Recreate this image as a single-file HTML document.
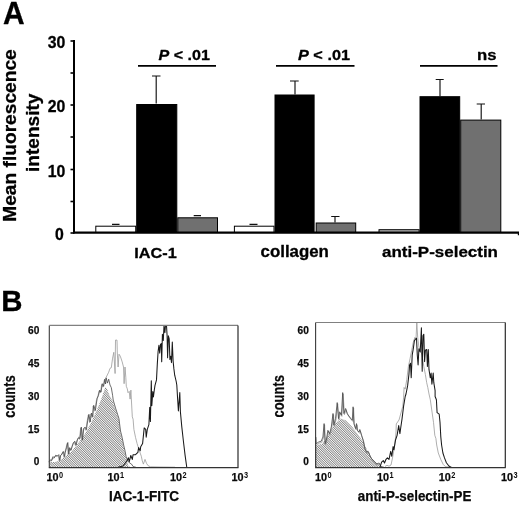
<!DOCTYPE html>
<html lang="en">
<head>
<meta charset="utf-8">
<title>Figure</title>
<style>
html,body{margin:0;padding:0;background:#fff;}
body{width:520px;height:507px;overflow:hidden;}
svg{display:block;filter:blur(0.4px);}
</style>
</head>
<body>
<svg width="520" height="507" viewBox="0 0 520 507">
<defs>
<pattern id="hp" width="1.65" height="1.65" patternUnits="userSpaceOnUse" patternTransform="rotate(45)"><rect width="1.65" height="1.65" fill="#fff"/><rect x="0" y="0" width="1.65" height="0.5" fill="#2c2c2c"/></pattern>
<clipPath id="cl"><rect x="48.5" y="325" width="189.5" height="143"/></clipPath>
<clipPath id="cr"><rect x="315.2" y="322" width="190.3" height="146"/></clipPath>
</defs>
<rect width="520" height="507" fill="#fff"/>
<g font-family="'Liberation Sans', Arial, Helvetica, sans-serif" font-weight="bold" fill="#000" stroke="#000" stroke-width="0.3" stroke-linejoin="round">
<text x="3.1" y="23.9" font-size="31.2" textLength="21.6" lengthAdjust="spacingAndGlyphs">A</text>
<text x="1.3" y="311.4" font-size="29.4">B</text>
<text transform="translate(15.8,135.5) rotate(-90)" text-anchor="middle" font-size="18.5" textLength="172.5" lengthAdjust="spacingAndGlyphs">Mean fluorescence</text>
<text transform="translate(38.6,132.8) rotate(-90)" text-anchor="middle" font-size="18.5" textLength="78.5" lengthAdjust="spacingAndGlyphs">intensity</text>
<text x="65.4" y="48.2" text-anchor="end" font-size="15.8">30</text>
<text x="65.4" y="112.2" text-anchor="end" font-size="15.8">20</text>
<text x="65.4" y="176.7" text-anchor="end" font-size="15.8">10</text>
<text x="63.7" y="240.2" text-anchor="end" font-size="15.8">0</text>
<text x="155.5" y="257.5" text-anchor="middle" font-size="15.5" textLength="42.5" lengthAdjust="spacingAndGlyphs">IAC-1</text>
<text x="294.75" y="257.2" text-anchor="middle" font-size="15.6" textLength="68.3" lengthAdjust="spacingAndGlyphs">collagen</text>
<text x="440" y="257.2" text-anchor="middle" font-size="15.5" textLength="116" lengthAdjust="spacingAndGlyphs">anti-P-selectin</text>
<text x="158.5" y="59.5" font-size="15.5" textLength="51.5" lengthAdjust="spacingAndGlyphs"><tspan font-style="italic">P</tspan> &lt; .01</text>
<text x="298" y="59.5" font-size="15.5" textLength="52" lengthAdjust="spacingAndGlyphs"><tspan font-style="italic">P</tspan> &lt; .01</text>
<text x="477" y="60" font-size="15.5" textLength="19.5" lengthAdjust="spacingAndGlyphs">ns</text>
</g>
<g stroke="#000" fill="none">
<path d="M74,40 V233.5" stroke-width="2"/>
<path d="M73,232.7 H519" stroke-width="2.2"/>
<path d="M518.4,232 V235.3" stroke-width="1.2"/>
<path d="M70.5,41 H74" stroke-width="1.6"/>
<path d="M70.5,73 H74" stroke-width="1.6"/>
<path d="M70.5,105 H74" stroke-width="1.6"/>
<path d="M70.5,137 H74" stroke-width="1.6"/>
<path d="M70.5,169.5 H74" stroke-width="1.6"/>
<path d="M70.5,201.5 H74" stroke-width="1.6"/>
<path d="M70.5,233 H74" stroke-width="1.6"/>
<path d="M138,65.8 H216" stroke-width="1.7"/>
<path d="M276,65.8 H354.5" stroke-width="1.7"/>
<path d="M420,65.8 H497.5" stroke-width="1.7"/>
</g>
<rect x="95.8" y="226.2" width="39.89999999999999" height="5.800000000000011" fill="#fff" stroke="#000" stroke-width="1"/>
<rect x="136.7" y="104.5" width="40.10000000000002" height="127.5" fill="#000" stroke="#000" stroke-width="1"/>
<rect x="177.8" y="217.8" width="39.69999999999999" height="14.199999999999989" fill="#707070" stroke="#000" stroke-width="1"/>
<rect x="234.4" y="226.2" width="39.599999999999994" height="5.800000000000011" fill="#fff" stroke="#000" stroke-width="1"/>
<rect x="275.0" y="95.0" width="39.10000000000002" height="137.0" fill="#000" stroke="#000" stroke-width="1"/>
<rect x="316.2" y="223.0" width="39.5" height="9.0" fill="#707070" stroke="#000" stroke-width="1"/>
<rect x="379.0" y="229.7" width="40.10000000000002" height="2.3000000000000114" fill="#b4b4b4" stroke="#000" stroke-width="1"/>
<rect x="420.0" y="96.7" width="39.69999999999999" height="135.3" fill="#000" stroke="#000" stroke-width="1"/>
<rect x="460.7" y="120.1" width="40.10000000000002" height="111.9" fill="#707070" stroke="#000" stroke-width="1"/>
<g stroke="#111" stroke-width="1.15" fill="none">
<path d="M156.2,76 V103.5 M152,76 H160.5"/>
<path d="M295,81 V94.5 M290,81 H298.7"/>
<path d="M440,79.5 V96.2 M435.7,79.5 H443.7"/>
<path d="M481.2,104 V119.5 M476.7,104 H485"/>
<path d="M335,216.5 V222.5 M331.2,216.5 H339.5"/>
<path d="M112,224.4 H119.5 M249.5,224.4 H257.5 M193.7,215.6 H201"/>
</g>
<g clip-path="url(#cl)">
<polygon points="49.50,467.60 49.50,462.00 55.00,462.00 60.10,460.40 66.00,456.00 71.60,451.40 78.00,443.50 84.50,434.80 91.00,423.00 97.30,409.10 101.50,398.50 103.50,392.50 105.50,386.80 107.50,390.00 109.50,395.50 112.60,401.00 115.80,410.50 118.90,420.00 120.50,433.00 122.10,439.00 123.70,447.00 125.20,453.50 126.00,458.50 128.40,465.70 131.00,467.60" fill="url(#hp)" stroke="none"/>
<polyline points="48.20,462.50 49.90,460.60 51.20,461.20 52.50,457.40 53.70,458.60 55.00,456.10 56.90,456.70 58.20,455.40 59.20,461.20 60.10,456.10 61.40,454.80 62.70,452.20 64.00,457.40 64.60,453.50 65.90,448.40 67.20,443.30 68.20,454.80 69.10,448.40 70.40,451.00 71.70,447.10 73.00,443.30 74.20,442.00 75.50,445.80 76.80,440.70 78.10,438.10 79.40,439.40 80.70,427.90 81.90,440.70 83.20,429.20 84.50,427.90 85.80,430.40 87.10,421.50 88.30,415.10 89.60,422.70 90.90,413.80 92.20,417.60 93.10,406.10 94.80,411.20 96.00,402.80 96.60,399.30 97.90,396.10 99.10,390.90 100.40,392.90 101.70,384.50 103.00,387.10 104.30,380.00 105.50,378.60 108.70,372.20 110.00,368.30 111.30,367.70 112.60,358.10 113.80,352.30 115.10,373.50 115.50,340.10 117.00,340.10 117.30,353.00 118.10,367.00 119.00,354.20 120.30,356.20 122.20,361.90 123.50,367.00 124.10,383.70 125.00,367.00 125.80,377.30 126.30,386.30 127.30,388.80 128.00,392.70 129.20,391.40 130.10,399.10 130.90,390.10 131.40,400.00 132.30,416.80 133.10,419.20 133.90,429.40 135.50,437.30 137.10,443.60 138.60,448.40 140.20,453.10 141.30,456.20 142.30,461.00 143.40,464.10 145.00,459.40 146.50,463.30 148.10,465.70 150.50,466.80 160.00,467.00 175.00,467.20" fill="none" stroke="#9a9a9a" stroke-width="0.8" stroke-linejoin="round"/>
<polyline points="48.80,461.70 50.50,459.80 51.80,460.40 53.10,456.60 54.30,457.80 55.60,455.30 57.50,455.90 58.80,454.60 59.80,460.40 60.70,455.30 62.00,454.00 63.30,451.40 64.60,456.60 65.20,452.70 66.50,447.60 67.80,442.50 68.80,454.00 69.70,447.60 71.00,450.20 72.30,446.30 73.60,442.50 74.80,441.20 76.10,445.00 77.40,439.90 78.70,437.30 80.00,438.60 81.30,427.10 82.50,439.90 83.80,428.40 85.10,427.10 86.40,429.60 87.70,420.70 88.90,414.30 90.20,421.90 91.50,413.00 92.80,416.80 93.70,405.30 95.40,410.40 96.60,402.00 97.20,398.50 98.50,395.30 99.70,390.10 101.00,392.10 102.30,383.70 103.60,386.30 104.90,379.20 105.50,384.00 106.20,377.90 107.40,383.10 108.70,379.20 110.00,385.00 111.30,387.60 112.60,395.30 113.20,400.00 115.80,408.90 118.90,418.40 120.50,431.00 122.10,437.30 123.70,445.20 125.20,451.50 126.00,456.20 127.60,461.00 129.20,462.60 131.50,464.10 133.10,466.50 136.00,467.30" fill="none" stroke="#484848" stroke-width="0.8" stroke-linejoin="round"/>
<polyline points="118.00,467.30 123.00,466.00 126.80,461.00 128.40,457.80 129.20,461.80 130.80,455.50 132.30,459.40 133.10,454.70 135.50,454.70 137.90,452.30 138.60,447.60 140.20,450.70 140.70,446.80 142.60,443.60 144.20,427.90 145.70,429.40 146.20,437.30 147.30,429.40 148.90,424.70 149.70,407.40 150.40,421.50 151.30,380.70 151.80,405.80 152.80,391.60 153.40,397.00 154.40,389.30 155.00,385.40 156.50,379.90 157.30,364.10 158.10,351.50 158.90,345.20 159.70,353.10 160.50,344.40 161.30,343.60 161.70,361.80 162.40,334.20 163.30,340.50 164.00,325.50 164.90,332.60 165.50,325.50 166.50,325.50 167.10,335.80 167.60,357.80 168.40,335.80 169.20,338.90 169.90,359.40 170.70,356.20 171.50,362.60 172.30,342.10 173.10,361.00 173.90,368.90 174.70,375.20 176.20,381.50 176.80,385.00 177.60,398.40 178.40,411.00 179.80,392.50 180.40,411.80 181.80,426.90 183.50,442.00 185.10,455.40 186.80,467.50" fill="none" stroke="#1a1a1a" stroke-width="1.05" stroke-linejoin="round"/>
</g>
<path d="M49.3,467.6 V325.4" fill="none" stroke="#3a3a3a" stroke-width="1.1"/>
<path d="M49.3,325.4 H238" fill="none" stroke="#808080" stroke-width="1.1"/>
<path d="M238,325.4 V467.6" fill="none" stroke="#2a2a2a" stroke-width="1.2"/>
<path d="M48.8,467.6 H238.5" fill="none" stroke="#333" stroke-width="1.3"/>
<g clip-path="url(#cr)">
<polygon points="315.80,467.50 315.80,445.40 322.00,443.70 328.80,433.70 335.50,423.60 340.50,418.60 345.60,420.20 352.30,427.00 357.30,433.70 362.30,440.40 367.40,450.40 370.70,457.10 375.80,462.20 380.80,467.50" fill="url(#hp)" stroke="none"/>
<polyline points="316.70,444.90 319.20,443.20 321.70,442.40 323.40,438.20 324.60,424.80 325.60,444.90 326.80,441.60 328.40,431.50 330.10,434.90 331.80,428.20 333.50,414.70 334.30,426.50 336.00,419.80 337.70,403.80 339.00,419.80 340.20,413.00 341.90,416.40 343.20,393.80 344.40,414.70 346.10,409.70 347.70,414.70 349.40,417.20 351.40,419.80 352.80,421.40 353.60,408.00 354.40,424.80 356.10,429.80 357.00,424.80 357.80,431.50 359.50,433.20 360.30,430.70 362.00,436.50 363.70,441.60 365.40,450.00 367.00,453.30 368.70,452.50 370.40,456.70 372.10,460.00 374.60,462.50 377.10,465.10 379.60,464.20 381.30,467.60 384.50,468.50" fill="none" stroke="#9a9a9a" stroke-width="0.8" stroke-linejoin="round"/>
<polyline points="385.00,466.50 387.00,465.30 389.00,466.20 391.00,465.00 392.50,458.00 393.50,452.00 394.50,446.00 395.50,438.00 396.00,432.00 396.30,423.90 399.00,420.00 402.80,406.20 403.60,397.20 404.10,387.50 405.20,389.10 406.80,379.40 408.40,366.50 410.10,358.40 411.70,350.30 413.30,342.20 414.90,337.40 416.00,339.00 416.80,322.50 417.70,337.40 418.90,347.10 420.20,350.30 422.20,355.20 423.80,366.50 425.40,374.60 426.70,382.70 427.80,387.50 429.00,394.00 430.30,399.70 431.90,411.00 433.50,422.30 434.80,435.30 435.90,438.50 436.70,445.00 438.30,453.00 440.80,459.50 443.20,464.40 445.60,466.80 452.00,467.30" fill="none" stroke="#9a9a9a" stroke-width="0.8" stroke-linejoin="round"/>
<polyline points="315.70,467.00 315.70,437.00 316.20,443.70 318.70,442.00 321.20,441.20 322.90,437.00 324.10,423.60 325.10,443.70 326.30,440.40 327.90,430.30 329.60,433.70 331.30,427.00 333.00,413.50 333.80,425.30 335.50,418.60 337.20,402.60 338.50,418.60 339.70,411.80 341.40,415.20 342.70,392.60 343.90,413.50 345.60,408.50 347.20,413.50 348.90,416.00 350.90,418.60 352.30,420.20 353.10,406.80 353.90,423.60 355.60,428.60 356.50,423.60 357.30,430.30 359.00,432.00 359.80,429.50 361.50,435.30 363.20,440.40 364.90,448.80 366.50,452.10 368.20,451.30 369.90,455.50 371.60,458.80 374.10,461.30 376.60,463.90 379.10,463.00 380.80,466.40 384.00,467.30" fill="none" stroke="#484848" stroke-width="0.8" stroke-linejoin="round"/>
<polyline points="378.00,467.40 380.00,467.20 381.60,462.20 383.30,460.50 384.50,463.00 385.80,459.70 387.40,457.90 389.00,459.50 390.70,451.40 391.80,456.30 393.10,446.60 393.90,449.80 395.50,440.10 397.10,435.30 398.70,425.60 399.90,433.60 400.80,427.20 402.00,419.10 403.60,406.20 405.20,396.50 406.00,394.00 407.60,385.90 408.90,374.60 409.60,364.90 410.50,363.30 411.20,377.80 412.20,355.20 413.30,348.70 414.40,340.60 415.70,339.00 416.50,338.20 417.30,355.20 418.10,364.90 418.90,348.70 420.20,351.90 421.40,327.70 422.20,371.30 423.00,335.80 423.80,334.20 424.60,361.60 425.40,350.30 426.70,349.50 427.40,366.50 428.30,349.50 429.00,369.70 430.30,377.80 431.10,373.00 431.90,384.30 433.20,373.00 433.80,382.70 435.10,390.70 435.10,396.50 436.40,399.70 437.10,412.60 439.20,414.20 440.00,422.30 440.80,436.90 441.60,445.00 442.90,453.00 444.50,457.90 446.40,462.70 448.90,466.00 451.30,467.40" fill="none" stroke="#1a1a1a" stroke-width="1.05" stroke-linejoin="round"/>
</g>
<path d="M315.6,467.6 V322.5" fill="none" stroke="#3a3a3a" stroke-width="1.1"/>
<path d="M315.6,322.5 H505.3" fill="none" stroke="#808080" stroke-width="1.1"/>
<path d="M505.3,322.5 V467.6" fill="none" stroke="#2a2a2a" stroke-width="1.2"/>
<path d="M315.1,467.6 H505.8" fill="none" stroke="#333" stroke-width="1.3"/>
<g font-family="'Liberation Sans', Arial, Helvetica, sans-serif" font-weight="bold" fill="#0a0a0a" stroke="#0a0a0a" stroke-width="0.25" stroke-linejoin="round">
<text x="39.3" y="333.8" text-anchor="end" font-size="11.5" textLength="11.3" lengthAdjust="spacingAndGlyphs">60</text>
<text x="308.8" y="333.8" text-anchor="end" font-size="11.5" textLength="11.3" lengthAdjust="spacingAndGlyphs">60</text>
<text x="39.3" y="367.3" text-anchor="end" font-size="11.5" textLength="11.3" lengthAdjust="spacingAndGlyphs">45</text>
<text x="308.8" y="367.3" text-anchor="end" font-size="11.5" textLength="11.3" lengthAdjust="spacingAndGlyphs">45</text>
<text x="39.3" y="400.3" text-anchor="end" font-size="11.5" textLength="11.3" lengthAdjust="spacingAndGlyphs">30</text>
<text x="308.8" y="400.3" text-anchor="end" font-size="11.5" textLength="11.3" lengthAdjust="spacingAndGlyphs">30</text>
<text x="39.3" y="433.3" text-anchor="end" font-size="11.5" textLength="11.3" lengthAdjust="spacingAndGlyphs">15</text>
<text x="308.8" y="433.3" text-anchor="end" font-size="11.5" textLength="11.3" lengthAdjust="spacingAndGlyphs">15</text>
<text x="39.3" y="465.0" text-anchor="end" font-size="11.5" textLength="5.6" lengthAdjust="spacingAndGlyphs">0</text>
<text x="308.8" y="465.0" text-anchor="end" font-size="11.5" textLength="5.6" lengthAdjust="spacingAndGlyphs">0</text>
<text x="46.5" y="481.4" font-size="11.6" textLength="12.1" lengthAdjust="spacingAndGlyphs">10</text>
<text x="59.0" y="478.2" font-size="8.3" stroke-width="0" textLength="4.1" lengthAdjust="spacingAndGlyphs">0</text>
<text x="107.5" y="481.4" font-size="11.6" textLength="12.1" lengthAdjust="spacingAndGlyphs">10</text>
<text x="120.0" y="478.2" font-size="8.3" stroke-width="0" textLength="4.1" lengthAdjust="spacingAndGlyphs">1</text>
<text x="169.89999999999998" y="481.4" font-size="11.6" textLength="12.1" lengthAdjust="spacingAndGlyphs">10</text>
<text x="182.39999999999998" y="478.2" font-size="8.3" stroke-width="0" textLength="4.1" lengthAdjust="spacingAndGlyphs">2</text>
<text x="231.5" y="481.4" font-size="11.6" textLength="12.1" lengthAdjust="spacingAndGlyphs">10</text>
<text x="244.0" y="478.2" font-size="8.3" stroke-width="0" textLength="4.1" lengthAdjust="spacingAndGlyphs">3</text>
<text x="314.9" y="481.4" font-size="11.6" textLength="12.1" lengthAdjust="spacingAndGlyphs">10</text>
<text x="327.4" y="478.2" font-size="8.3" stroke-width="0" textLength="4.1" lengthAdjust="spacingAndGlyphs">0</text>
<text x="376.9" y="481.4" font-size="11.6" textLength="12.1" lengthAdjust="spacingAndGlyphs">10</text>
<text x="389.4" y="478.2" font-size="8.3" stroke-width="0" textLength="4.1" lengthAdjust="spacingAndGlyphs">1</text>
<text x="438.7" y="481.4" font-size="11.6" textLength="12.1" lengthAdjust="spacingAndGlyphs">10</text>
<text x="451.2" y="478.2" font-size="8.3" stroke-width="0" textLength="4.1" lengthAdjust="spacingAndGlyphs">2</text>
<text x="501.0" y="481.4" font-size="11.6" textLength="12.1" lengthAdjust="spacingAndGlyphs">10</text>
<text x="513.5" y="478.2" font-size="8.3" stroke-width="0" textLength="4.1" lengthAdjust="spacingAndGlyphs">3</text>
<text transform="translate(14.8,396.5) rotate(-90)" text-anchor="middle" font-size="16" textLength="42.3" lengthAdjust="spacingAndGlyphs">counts</text>
<text transform="translate(283.6,396.3) rotate(-90)" text-anchor="middle" font-size="16" textLength="42.3" lengthAdjust="spacingAndGlyphs">counts</text>
<text x="144" y="501.3" text-anchor="middle" font-size="14" textLength="70" lengthAdjust="spacingAndGlyphs">IAC-1-FITC</text>
<text x="414.6" y="501" text-anchor="middle" font-size="14" textLength="113.5" lengthAdjust="spacingAndGlyphs">anti-P-selectin-PE</text>
</g>
</svg>
</body>
</html>
